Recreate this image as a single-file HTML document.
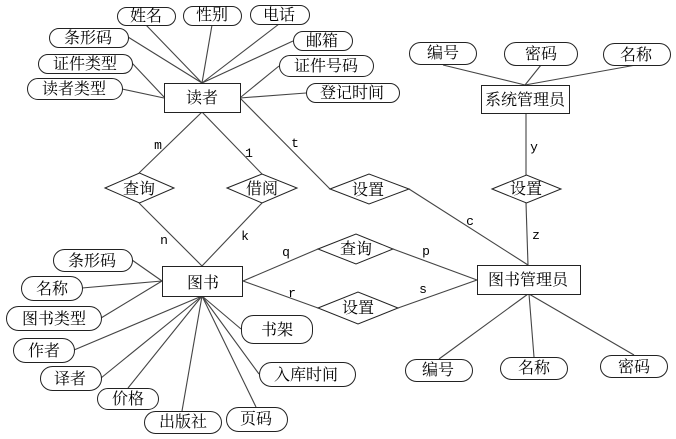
<!DOCTYPE html>
<html><head><meta charset="utf-8">
<style>
html,body{margin:0;padding:0;background:#fff;width:676px;height:439px;overflow:hidden}
svg{display:block}
text.c{font-family:"Liberation Serif","Noto Serif CJK SC","WenQuanYi Zen Hei",serif;font-size:16px;fill:#000;text-anchor:middle}
text.l{font-family:"Liberation Mono",monospace;font-size:13px;fill:#000;text-anchor:middle}
.e line{stroke:#444;stroke-width:1.1}
.s rect,.s polygon{fill:#fff;stroke:#222;stroke-width:1}
</style></head><body>
<svg width="676" height="439" viewBox="0 0 676 439" xmlns="http://www.w3.org/2000/svg">
<g class="e">
<line x1="146" y1="25" x2="202" y2="83"/><line x1="212" y1="25" x2="202" y2="83"/><line x1="279" y1="24" x2="202" y2="83"/>
<line x1="128" y1="37" x2="202" y2="83"/><line x1="293" y1="41" x2="202" y2="83"/>
<line x1="132" y1="63" x2="164" y2="97"/><line x1="122" y1="89" x2="164" y2="98"/>
<line x1="279" y1="66" x2="241" y2="97"/><line x1="306" y1="93" x2="240" y2="98"/>
<line x1="202" y1="112" x2="139" y2="173"/><line x1="202" y1="112" x2="262" y2="174"/><line x1="240" y1="98" x2="330" y2="189"/>
<line x1="139" y1="203" x2="202" y2="266"/><line x1="262" y1="203" x2="202" y2="266"/>
<line x1="409" y1="189" x2="528" y2="265"/>
<line x1="443" y1="65" x2="525" y2="85"/><line x1="541" y1="65" x2="525" y2="85"/><line x1="636" y1="65" x2="525" y2="85"/>
<line x1="526" y1="113" x2="526" y2="175"/><line x1="526" y1="203" x2="528" y2="265"/>
<line x1="132" y1="260" x2="162" y2="281"/><line x1="82" y1="288" x2="162" y2="281"/><line x1="101" y1="318" x2="162" y2="281"/>
<line x1="74" y1="350" x2="202" y2="296"/><line x1="101" y1="378" x2="202" y2="296"/><line x1="128" y1="388" x2="202" y2="296"/>
<line x1="182" y1="411" x2="202" y2="296"/><line x1="256" y1="407" x2="202" y2="296"/><line x1="259" y1="374" x2="202" y2="296"/><line x1="241" y1="329" x2="202" y2="296"/>
<line x1="243" y1="281" x2="318" y2="249"/><line x1="243" y1="281" x2="318" y2="308"/>
<line x1="393" y1="249" x2="477" y2="280"/><line x1="398" y1="308" x2="477" y2="280"/>
<line x1="528" y1="294" x2="439" y2="359"/><line x1="529" y1="294" x2="534" y2="357"/><line x1="529" y1="294" x2="634" y2="355"/>
</g>
<g class="s">
<rect x="117.500" y="7.500" width="58" height="18" rx="9"/>
<rect x="183.500" y="6.500" width="58" height="19" rx="9.500"/>
<rect x="250.500" y="5.500" width="59" height="19" rx="9.500"/>
<rect x="49.500" y="28.500" width="79" height="19" rx="9.500"/>
<rect x="293.500" y="31.500" width="59" height="19" rx="9.500"/>
<rect x="38.500" y="54.500" width="94" height="19" rx="9.500"/>
<rect x="279.500" y="55.500" width="94" height="21" rx="10.500"/>
<rect x="27.500" y="78.500" width="95" height="21" rx="10.500"/>
<rect x="306.500" y="83.500" width="93" height="19" rx="9.500"/>
<rect x="164.500" y="83.500" width="76" height="29"/>
<polygon points="105,188 139.500,173 174,188 139.500,203"/>
<polygon points="227,188 262,174 297,188 262,203"/>
<polygon points="330,189 369,174 409,189 369,204"/>
<rect x="409.500" y="42.500" width="67" height="22" rx="11"/>
<rect x="504.500" y="42.500" width="73" height="23" rx="11.500"/>
<rect x="603.500" y="43.500" width="67" height="22" rx="11"/>
<rect x="481.500" y="85.500" width="88" height="28"/>
<polygon points="492,189 526.500,175 561,189 526.500,203"/>
<rect x="53.500" y="249.500" width="79" height="22" rx="11"/>
<rect x="21.500" y="276.500" width="61" height="24" rx="12"/>
<rect x="6.500" y="306.500" width="95" height="24" rx="12"/>
<rect x="13.500" y="338.500" width="61" height="24" rx="12"/>
<rect x="40.500" y="366.500" width="61" height="24" rx="12"/>
<rect x="97.500" y="388.500" width="61" height="21" rx="10.500"/>
<rect x="144.500" y="411.500" width="77" height="22" rx="11"/>
<rect x="226.500" y="407.500" width="61" height="24" rx="12"/>
<rect x="259.500" y="362.500" width="96" height="24" rx="12"/>
<rect x="241.500" y="315.500" width="71" height="28" rx="12"/>
<rect x="162.500" y="266.500" width="80" height="30"/>
<polygon points="318,249 356,234 393,249 356,264"/>
<polygon points="318,308 358,292 398,308 358,324"/>
<rect x="477.500" y="265.500" width="103" height="29"/>
<rect x="405.500" y="359.500" width="67" height="22" rx="11"/>
<rect x="500.500" y="357.500" width="67" height="22" rx="11"/>
<rect x="600.500" y="355.500" width="67" height="22" rx="11"/>
</g>
<g>
<text class="c" x="146" y="21">姓名</text>
<text class="c" x="212" y="20">性别</text>
<text class="c" x="279" y="20">电话</text>
<text class="c" x="88" y="43">条形码</text>
<text class="c" x="322" y="46">邮箱</text>
<text class="c" x="85" y="69">证件类型</text>
<text class="c" x="326" y="71">证件号码</text>
<text class="c" x="74" y="94">读者类型</text>
<text class="c" x="352" y="98">登记时间</text>
<text class="c" x="202" y="103">读者</text>
<text class="c" x="139" y="194">查询</text>
<text class="c" x="262" y="194">借阅</text>
<text class="c" x="368" y="195">设置</text>
<text class="c" x="443" y="58">编号</text>
<text class="c" x="541" y="59">密码</text>
<text class="c" x="636" y="60">名称</text>
<text class="c" x="525" y="105">系统管理员</text>
<text class="c" x="526" y="194">设置</text>
<text class="c" x="92" y="266">条形码</text>
<text class="c" x="52" y="294">名称</text>
<text class="c" x="54" y="324">图书类型</text>
<text class="c" x="44" y="356">作者</text>
<text class="c" x="70" y="384">译者</text>
<text class="c" x="128" y="404">价格</text>
<text class="c" x="183" y="427">出版社</text>
<text class="c" x="256" y="424">页码</text>
<text class="c" x="306" y="380">入库时间</text>
<text class="c" x="277" y="335">书架</text>
<text class="c" x="203" y="288">图书</text>
<text class="c" x="356" y="254">查询</text>
<text class="c" x="358" y="313">设置</text>
<text class="c" x="528" y="285">图书管理员</text>
<text class="c" x="438" y="375">编号</text>
<text class="c" x="534" y="373">名称</text>
<text class="c" x="634" y="372">密码</text>
</g>
<g>
<text class="l" x="158" y="149">m</text>
<text class="l" x="249" y="157">1</text>
<text class="l" x="295" y="147">t</text>
<text class="l" x="164" y="244">n</text>
<text class="l" x="245" y="240">k</text>
<text class="l" x="286" y="256">q</text>
<text class="l" x="292" y="297">r</text>
<text class="l" x="426" y="255">p</text>
<text class="l" x="423" y="293">s</text>
<text class="l" x="470" y="225">c</text>
<text class="l" x="534" y="151">y</text>
<text class="l" x="536" y="239">z</text>
</g>
</svg>
</body></html>
